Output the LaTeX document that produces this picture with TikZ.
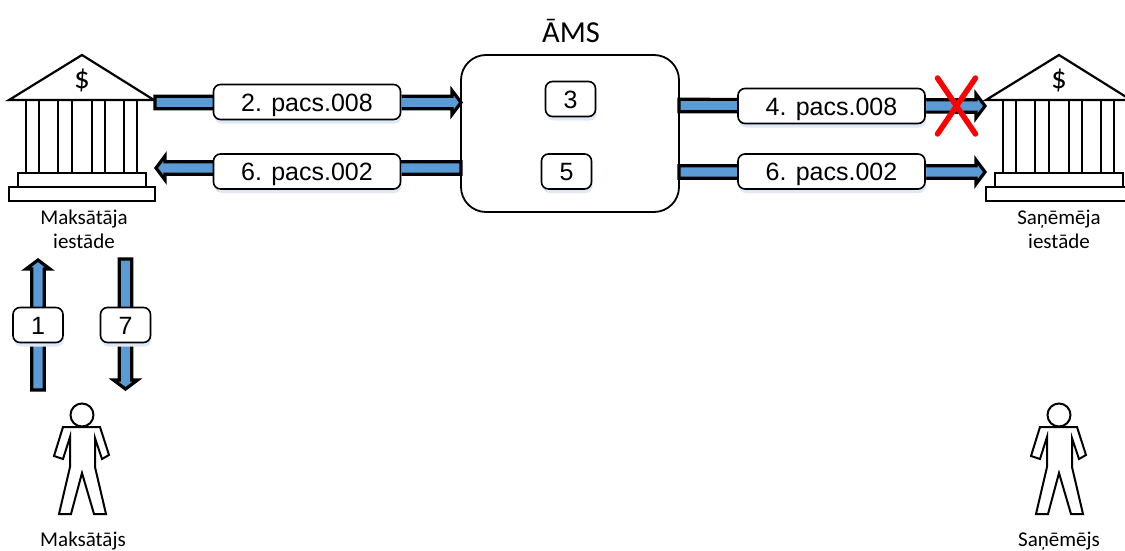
\documentclass[tikz,border=0pt]{standalone}
\usepackage{fontspec}
\setmainfont{Carlito}
\newfontfamily\boxfont{Liberation Sans}
\usetikzlibrary{calc,shadows}
\definecolor{arrowblue}{HTML}{5B9BD5}
\definecolor{softshadow}{HTML}{DDE9F6}
\tikzset{
  x=1pt,y=-1pt,
  blockarrow/.style={draw=black,line width=3.2pt,fill=arrowblue,miter limit=10,
    to path={
      ($(\tikztostart)!6.2pt!90:(\tikztotarget)$)
      -- ($($(\tikztotarget)!9pt!(\tikztostart)$)!6.2pt!90:(\tikztotarget)$)
      -- ($($(\tikztotarget)!9pt!(\tikztostart)$)!12pt!90:(\tikztotarget)$)
      -- (\tikztotarget)
      -- ($($(\tikztotarget)!9pt!(\tikztostart)$)!12pt!-90:(\tikztotarget)$)
      -- ($($(\tikztotarget)!9pt!(\tikztostart)$)!6.2pt!-90:(\tikztotarget)$)
      -- ($(\tikztostart)!6.2pt!-90:(\tikztotarget)$)
      -- cycle}},
  labelbox/.style={draw=black,line width=1.6pt,fill=white,rounded corners=7pt,
    inner sep=0pt,text height=18pt,text depth=0pt,font=\boxfont\fontsize{25}{28}\selectfont,
    drop shadow={shadow xshift=1pt,shadow yshift=-4pt,fill=softshadow,opacity=1}},
  wide/.style={labelbox,minimum width=187pt,minimum height=35pt},
  small/.style={labelbox,minimum width=50pt,minimum height=35pt},
  caption/.style={font=\fontsize{21}{24}\selectfont,align=center,inner sep=0pt},
  bank/.pic={
    \draw[line width=2.2pt,fill=white,line join=miter] (9,100) -- (82,55) -- (154,100) -- cycle;
    \foreach \a/\b in {26/39,58/72,92/105,124/137}{
      \draw[line width=2.2pt] (\a,100) -- (\a,173) (\b,100) -- (\b,173);
    }
    \draw[line width=2.2pt,fill=white] (18,173) rectangle (146,187);
    \draw[line width=2.2pt,fill=white] (9,187) rectangle (155,201);
    \node[font=\fontsize{31}{33}\selectfont,inner sep=0pt] at (82,80) {\$};
  },
  person/.pic={
    \draw[line width=2pt,fill=white,line join=miter]
      (63,427) -- (100,427) -- (109,455) -- (102,459) -- (95,438) -- (95,467)
      -- (106,514) -- (94,514) -- (82,473) -- (71,514) -- (59,514) -- (70,467)
      -- (70,437) -- (63,459) -- (54,456) -- cycle;
    \draw[line width=2pt,fill=white] (82,415) circle (11.5);
  }
}
\begin{document}
\begin{tikzpicture}
\useasboundingbox (0,0) rectangle (1125,551);
\clip (0,0) rectangle (1125,551);

\pic at (0,0) {bank};
\pic at (977,0) {bank};
\pic at (0,0) {person};
\pic at (977,0) {person};

\node[caption] (capL) at (84,229) {Maksātāja\\iestāde};
\node[caption] (capR) at (1059,229) {Saņēmēja\\iestāde};
\node[caption] (capP) at (83,541) {Maksātājs};
\node[caption] (capQ) at (1059,541) {Saņēmējs};
\node[font=\fontsize{30.5}{33}\selectfont,inner sep=0pt] (title) at (571,31) {ĀMS};

\node[draw=black,line width=1.8pt,fill=white,rounded corners=25pt,minimum width=218pt,minimum height=157pt,inner sep=0pt] (ams) at (570,133.5) {};

\coordinate (a2s) at (155,102.5);
\coordinate (a2e) at (461,102.5);
\coordinate (a6s) at (461,168);
\coordinate (a6e) at (156,168);
\coordinate (a4s) at (679,105.5);
\coordinate (a4e) at (985,106);
\coordinate (b6s) at (679,172);
\coordinate (b6e) at (985,172);
\coordinate (a1s) at (38,390);
\coordinate (a1e) at (38,260);
\coordinate (a7s) at (125.5,259);
\coordinate (a7e) at (125.5,389);

\draw[blockarrow] (a2s) to (a2e);
\draw[blockarrow] (a6s) to (a6e);
\draw[blockarrow] (a4s) to (a4e);
\draw[blockarrow] (b6s) to (b6e);
\draw[blockarrow] (a1s) to (a1e);
\draw[blockarrow] (a7s) to (a7e);

\node[wide] (l2) at (307,102) {2. pacs.008};
\node[wide] (l6a) at (307,171.5) {6. pacs.002};
\node[wide] (l4) at (831.5,106) {4. pacs.008};
\node[wide] (l6b) at (831.5,171.5) {6. pacs.002};
\node[small] (n1) at (38,325) {1};
\node[small] (n7) at (125.5,325) {7};
\node[small] (n3) at (570.5,99) {3};
\node[small] (n5) at (566.5,171.5) {5};

\coordinate (x1) at (937.5,78);
\coordinate (x2) at (975.5,134);
\coordinate (x3) at (975.5,78);
\coordinate (x4) at (937.5,134);
\draw[red,line width=5.5pt,line cap=round] (x1) -- (x2) (x3) -- (x4);
\end{tikzpicture}
\end{document}
